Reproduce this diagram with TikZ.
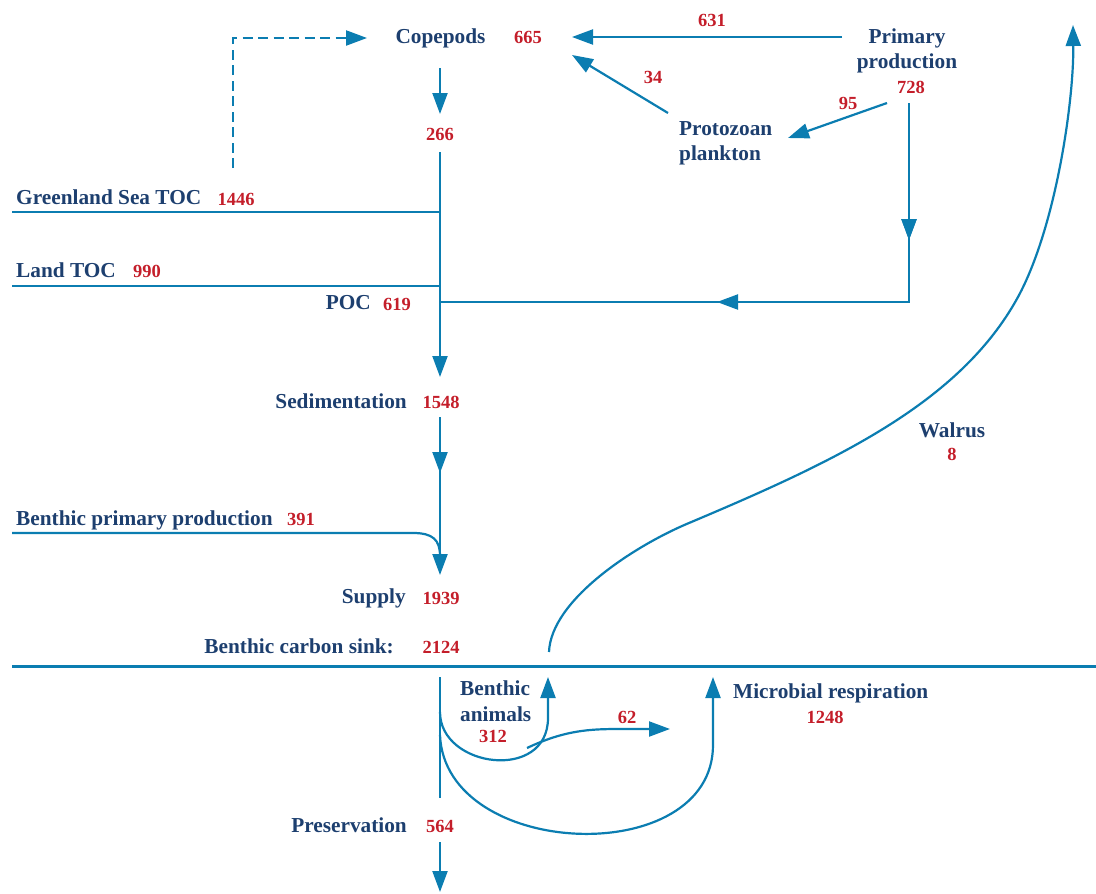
\documentclass[tikz,border=0pt]{standalone}
\usepackage{fontspec}
\setmainfont{Liberation Serif}
\usetikzlibrary{arrows.meta,decorations.markings}
\definecolor{lblue}{HTML}{0B7DB1}
\definecolor{tblue}{HTML}{1D3F6F}
\definecolor{tred}{HTML}{C41E2A}
\begin{document}
\begin{tikzpicture}[x=1pt,y=-1pt,
  flow/.style={draw=lblue, line width=2.2pt},
  tip/.style={-{Triangle[length=21pt,width=15pt]}},
  lab/.style={text=tblue, font=\fontsize{21.3}{25}\selectfont\bfseries, inner sep=0pt},
  num/.style={text=tred, font=\fontsize{18.5}{22}\selectfont\bfseries, inner sep=0pt},
  midarrow/.style={postaction=decorate, decoration={markings, mark=at position #1 with {\arrow{Triangle[length=21pt,width=15pt]}}}},
]
\useasboundingbox (0,0) rectangle (1096,894);

% ---- labels ----
\node[lab, anchor=base] (cop) at (440.5,43) {Copepods};
\node[num, anchor=base] (copn) at (528,43) {665};
\node[num, anchor=base] (n266) at (440,140) {266};
\node[lab, anchor=base west] (gst) at (16,204) {Greenland Sea TOC};
\node[num, anchor=base] (gstn) at (236,205) {1446};
\node[lab, anchor=base west] (ltoc) at (16,277) {Land TOC};
\node[num, anchor=base] (ltocn) at (147,277) {990};
\node[lab, anchor=base east] (poc) at (371,309) {POC};
\node[num, anchor=base] (pocn) at (397,310) {619};
\node[lab, anchor=base east] (sed) at (407,408) {Sedimentation};
\node[num, anchor=base] (sedn) at (441,408) {1548};
\node[lab, anchor=base west] (bpp) at (16,525) {Benthic primary production};
\node[num, anchor=base] (bppn) at (301,525) {391};
\node[lab, anchor=base east] (sup) at (406,603) {Supply};
\node[num, anchor=base] (supn) at (441,604) {1939};
\node[lab, anchor=base east] (bcs) at (394,653) {Benthic carbon sink:};
\node[num, anchor=base] (bcsn) at (441,653) {2124};
\node[lab, anchor=base east] (pres) at (407,832) {Preservation};
\node[num, anchor=base] (presn) at (440,832) {564};
\node[lab, anchor=base west] (ba1) at (460,695) {Benthic};
\node[lab, anchor=base west] (ba2) at (460,721) {animals};
\node[num, anchor=base] (ban) at (493,742) {312};
\node[lab, anchor=base west] (mr) at (733,698) {Microbial respiration};
\node[num, anchor=base] (mrn) at (825,723) {1248};
\node[num, anchor=base] (n62) at (627,723) {62};
\node[lab, anchor=base] (pp1) at (907,43) {Primary};
\node[lab, anchor=base] (pp2) at (907,68) {production};
\node[num, anchor=base] (ppn) at (911,93) {728};
\node[num, anchor=base] (n631) at (712,27) {631};
\node[num, anchor=base] (n34) at (653,83) {34};
\node[num, anchor=base] (n95) at (848,109) {95};
\node[lab, anchor=base west] (pr1) at (679,135) {Protozoan};
\node[lab, anchor=base west] (pr2) at (679,160) {plankton};
\node[lab, anchor=base] (wal) at (952,437) {Walrus};
\node[num, anchor=base] (waln) at (952,460) {8};

% ---- connector end points ----
\coordinate (dashS) at (233,168);
\coordinate (dashE) at (367,38);
\coordinate (ppL) at (842,37);
\coordinate (copR) at (572,37);
\coordinate (prT) at (668,113);
\coordinate (copR2) at (572,55);
\coordinate (ppB) at (887,103);
\coordinate (prR) at (788,138);
\coordinate (copB) at (440,68);
\coordinate (n266T) at (440,114);
\coordinate (n266B) at (440,152);
\coordinate (sedT) at (440,377);
\coordinate (gstL) at (12,212);
\coordinate (gstR) at (440,212);
\coordinate (ltocL) at (12,286);
\coordinate (ltocR) at (440,286);
\coordinate (ppV) at (909,103);
\coordinate (ppC) at (909,302);
\coordinate (pocR) at (440,302);
\coordinate (sedB) at (440,417);
\coordinate (supT) at (440,575);
\coordinate (bppL) at (12,533);
\coordinate (bppK) at (413,533);
\coordinate (bppJ) at (440,556);
\coordinate (sinkL) at (12,666.5);
\coordinate (sinkR) at (1096,666.5);
\coordinate (bcsB) at (440,677);
\coordinate (presT) at (440,798);
\coordinate (presB) at (440,842);
\coordinate (presE) at (440,892);
\coordinate (baS) at (440,712);
\coordinate (baT) at (548,677);
\coordinate (b62S) at (527,748);
\coordinate (b62E) at (670,729);
\coordinate (mrS) at (440,735);
\coordinate (mrT) at (713,677);
\coordinate (walS) at (549,652);
\coordinate (walM) at (689,523);
\coordinate (walN) at (1018,297);
\coordinate (walE) at (1073,25);

% ---- connectors ----
\draw[flow, dash pattern=on 10pt off 5.5pt, tip] (dashS) |- (dashE);
\draw[flow, tip] (ppL) -- (copR);
\draw[flow, tip] (prT) -- (copR2);
\draw[flow, tip] (ppB) -- (prR);
\draw[flow, tip] (copB) -- (n266T);
\draw[flow, tip] (n266B) -- (sedT);
\draw[flow] (gstL) -- (gstR);
\draw[flow] (ltocL) -- (ltocR);
\draw[flow, midarrow=137pt, postaction={decorate, decoration={markings, mark=at position 391pt with {\arrow{Triangle[length=21pt,width=15pt]}}}}] (ppV) -- (ppC) -- (pocR);
\draw[flow, tip, midarrow=56pt] (sedB) -- (supT);
\draw[flow] (bppL) -- (bppK) .. controls (433,533) and (440,540) .. (bppJ);
\draw[flow] (sinkL) -- (sinkR);
\draw[flow] (bcsB) -- (presT);
\draw[flow, tip] (presB) -- (presE);
\draw[flow, tip] (baS) .. controls (440,768) and (548,782) .. (548,718) -- (baT);
\draw[flow, tip] (b62S) .. controls (565,730) and (590,729) .. (620,729) -- (b62E);
\draw[flow, tip] (mrS) .. controls (445,860) and (713,870) .. (713,745) -- (mrT);
\draw[flow, tip] (walS) .. controls (551,600) and (634,546) .. (walM)
  .. controls (836,461) and (960,403) .. (walN)
  .. controls (1056,227) and (1074,100) .. (walE);
\end{tikzpicture}
\end{document}
